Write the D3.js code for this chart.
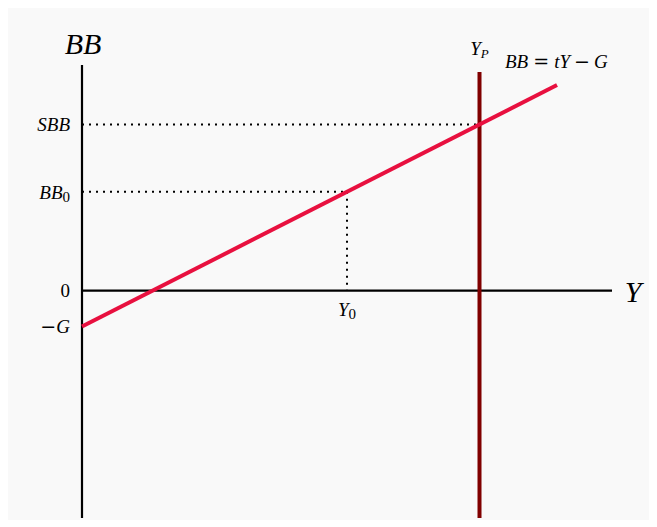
<!DOCTYPE html>
<html>
<head>
<meta charset="utf-8">
<script src="https://cdn.jsdelivr.net/npm/d3@7"></script>
<style>
  html, body { margin: 0; padding: 0; background: #fff; }
  svg { display: block; }
  text { font-family: "Liberation Serif", "DejaVu Serif", serif; }
  .op { font-family: "DejaVu Serif", serif; font-style: normal; }
</style>
</head>
<body>
<svg id="chart"></svg>
<script>
// Budget balance model: BB = tY - G
const taxRate = 0.9375;
const govSpending = 1;
const incomeLevels = [0, 7.17];      // span of the BB line
const markers = [
  { name: 'Y0', y: 4 },              // actual income
  { name: 'YP', y: 6 }               // potential income
];
const xDomain = [0, 8];
const yDomain = [-6.33, 6.28];

const width = 657, height = 527;
const svg = d3.select('#chart').attr('width', width).attr('height', height);

svg.append('rect')
  .attr('x', 8).attr('y', 8).attr('width', 641).attr('height', 512)
  .attr('fill', '#f9f9f9');

const x = d3.scaleLinear().domain(xDomain).range([82, 612]);
const y = d3.scaleLinear().domain(yDomain).range([518, 65]);

const bb = v => taxRate * v - govSpending;
const y0 = markers[0].y, yp = markers[1].y;

// Dotted guides
const dotted = svg.append('g')
  .attr('stroke', '#000')
  .attr('stroke-width', 2)
  .attr('stroke-dasharray', '2,5')
  .attr('fill', 'none');

dotted.append('line')
  .attr('x1', x(0)).attr('x2', x(yp))
  .attr('y1', y(bb(yp))).attr('y2', y(bb(yp)));
dotted.append('line')
  .attr('x1', x(0)).attr('x2', x(y0))
  .attr('y1', y(bb(y0))).attr('y2', y(bb(y0)));
dotted.append('line')
  .attr('x1', x(y0)).attr('x2', x(y0))
  .attr('y1', y(bb(y0))).attr('y2', y(0));

// Axes
svg.append('line')
  .attr('x1', x(0)).attr('x2', x(0))
  .attr('y1', y(yDomain[1])).attr('y2', y(yDomain[0]))
  .attr('stroke', '#000').attr('stroke-width', 2.2);
svg.append('line')
  .attr('x1', x(0)).attr('x2', x(xDomain[1]))
  .attr('y1', y(0)).attr('y2', y(0))
  .attr('stroke', '#000').attr('stroke-width', 2.2);

// Potential output
svg.append('line')
  .attr('x1', x(yp)).attr('x2', x(yp))
  .attr('y1', 72).attr('y2', y(yDomain[0]))
  .attr('stroke', '#800000').attr('stroke-width', 4);

// BB line
svg.append('path')
  .datum(incomeLevels)
  .attr('d', d3.line().x(d => x(d)).y(d => y(bb(d))))
  .attr('stroke', '#e8103f').attr('stroke-width', 4)
  .attr('fill', 'none');

// Labels
const lbl = (tx, ty, size, anchor) => svg.append('text')
  .attr('x', tx).attr('y', ty)
  .attr('font-size', size)
  .attr('font-style', 'italic')
  .attr('text-anchor', anchor);

lbl(83, 54, 30, 'middle').text('BB');
lbl(70, 131, 19, 'end').text('SBB');
const b0 = lbl(70, 199, 19, 'end');
b0.append('tspan').text('BB');
b0.append('tspan').attr('font-style', 'normal').attr('font-size', 15).attr('dy', 3).text('0');
svg.append('text').attr('x', 70).attr('y', y(0) + 6).attr('font-size', 19)
  .attr('text-anchor', 'end').text('0');
const g = svg.append('text').attr('x', 70).attr('y', y(-govSpending) + 6)
  .attr('font-size', 19).attr('text-anchor', 'end');
g.append('tspan').attr('class', 'op').text('\u2212');
g.append('tspan').attr('font-style', 'italic').text('G');

const ly0 = lbl(x(y0), 316, 19, 'middle');
ly0.append('tspan').text('Y');
ly0.append('tspan').attr('font-style', 'normal').attr('font-size', 15).attr('dy', 3).text('0');

const lyp = lbl(x(yp), 55, 19, 'middle');
lyp.append('tspan').text('Y');
lyp.append('tspan').attr('font-size', 13).attr('dy', 3).text('P');

lbl(633, 302, 30, 'middle').text('Y');

const eq = svg.append('text').attr('x', 505).attr('y', 68).attr('font-size', 19);
eq.append('tspan').attr('font-style', 'italic').text('BB');
eq.append('tspan').attr('class', 'op').attr('dx', 5).text('=');
eq.append('tspan').attr('font-style', 'italic').attr('dx', 5).text('tY');
eq.append('tspan').attr('class', 'op').attr('dx', 4).text('\u2212');
eq.append('tspan').attr('font-style', 'italic').attr('dx', 4).text('G');
</script>
</body>
</html>
